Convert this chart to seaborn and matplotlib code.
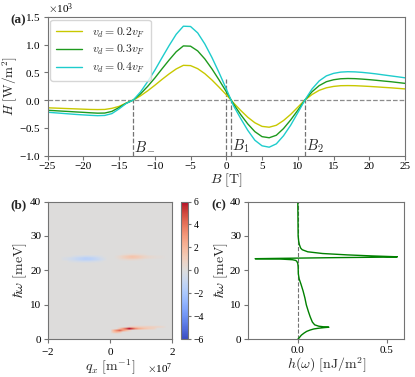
import numpy as np
import pandas as pd
import matplotlib
matplotlib.use("Agg")
import matplotlib.pyplot as plt
from matplotlib.ticker import ScalarFormatter
import seaborn as sns

sns.set_style("ticks")
plt.rcParams["font.family"] = "serif"
plt.rcParams["font.serif"] = ["Liberation Serif", "DejaVu Serif"]
plt.rcParams["mathtext.fontset"] = "cm"
plt.rcParams["axes.edgecolor"] = "0.45"
plt.rcParams["xtick.color"] = "0.45"
plt.rcParams["ytick.color"] = "0.45"
plt.rcParams["xtick.labelcolor"] = "black"
plt.rcParams["ytick.labelcolor"] = "black"

# panel (a): heat current H vs B, values in units of 1e3 W/m^2
B_vals = list(range(-25, 26))
H_02 = [-0.140, -0.145, -0.150, -0.155, -0.160, -0.165, -0.170, -0.172, -0.170, -0.150,
        -0.115, -0.055, 0.000, 0.075, 0.165, 0.265, 0.370, 0.470, 0.560, 0.625,
        0.620, 0.565, 0.475, 0.360, 0.230, 0.095, -0.050, -0.185, -0.310, -0.410,
        -0.475, -0.490, -0.455, -0.370, -0.260, -0.130, 0.000, 0.100, 0.175, 0.220,
        0.245, 0.258, 0.260, 0.258, 0.252, 0.245, 0.237, 0.228, 0.220, 0.210, 0.200]
H_03 = [-0.185, -0.192, -0.200, -0.207, -0.215, -0.222, -0.230, -0.237, -0.235, -0.205,
        -0.135, -0.058, 0.000, 0.110, 0.245, 0.395, 0.560, 0.720, 0.870, 0.975,
        0.970, 0.885, 0.740, 0.560, 0.360, 0.150, -0.070, -0.260, -0.430, -0.570,
        -0.660, -0.680, -0.635, -0.515, -0.360, -0.185, 0.000, 0.150, 0.260, 0.330,
        0.365, 0.383, 0.388, 0.385, 0.377, 0.367, 0.355, 0.342, 0.330, 0.315, 0.300]
H_04 = [-0.220, -0.230, -0.240, -0.250, -0.260, -0.268, -0.276, -0.282, -0.278, -0.245,
        -0.160, -0.062, 0.000, 0.145, 0.330, 0.535, 0.760, 0.980, 1.185, 1.330,
        1.325, 1.210, 1.010, 0.765, 0.490, 0.200, -0.100, -0.330, -0.545, -0.725,
        -0.825, -0.850, -0.790, -0.645, -0.455, -0.230, 0.000, 0.200, 0.345, 0.435,
        0.480, 0.503, 0.510, 0.507, 0.498, 0.485, 0.470, 0.452, 0.435, 0.418, 0.400]
vd_labels = [r"$v_d = 0.2v_F$", r"$v_d = 0.3v_F$", r"$v_d = 0.4v_F$"]
vd_colors = ["#c8c800", "#1e9a1e", "#1ecccc"]
B_marks = [-13.0, 0.7, 11.0]
B_mark_labels = [r"$B_-$", r"$B_1$", r"$B_2$"]

# panel (b): sparse map on a 0.1e7 x 0.5 meV grid (omega, first qx [1e7 m^-1], values)
hm_cells = [
    (2.0, 0.1, [1.5, 2.0, 1.5]),
    (2.5, 0.1, [2.0, 3.5, 4.5, 3.0, 2.0, 1.0]),
    (3.0, 0.3, [1.5, 3.0, 4.5, 6.0, 5.0, 3.5, 2.5, 2.0, 1.5, 1.2, 1.0, 0.8]),
    (3.5, 0.6, [0.8, 1.0, 1.0, 1.0, 1.0, 1.0, 1.0, 1.0, 0.9, 0.8, 0.7, 0.5]),
    (22.5, -1.3, [-0.2, -0.3, -0.4, -0.5, -0.6, -0.6, -0.6, -0.5, -0.4, -0.3, -0.2]),
    (23.0, -1.5, [-0.2, -0.3, -0.5, -0.7, -0.9, -1.1, -1.3, -1.4, -1.4, -1.3, -1.1, -0.9, -0.6, -0.3]),
    (23.5, -1.5, [-0.2, -0.3, -0.5, -0.7, -0.9, -1.1, -1.3, -1.5, -1.4, -1.3, -1.1, -0.8, -0.5, -0.2]),
    (24.0, -1.2, [-0.2, -0.3, -0.4, -0.5, -0.6, -0.6, -0.5, -0.4, -0.3, -0.2]),
    (23.0, 0.3, [0.2, 0.3, 0.4, 0.5, 0.5, 0.4, 0.3, 0.2]),
    (23.5, 0.2, [0.2, 0.5, 0.8, 1.1, 1.3, 1.4, 1.3, 1.1, 0.9, 0.7, 0.5, 0.4, 0.3, 0.2, 0.2, 0.1]),
    (24.0, 0.2, [0.2, 0.5, 0.8, 1.1, 1.4, 1.5, 1.4, 1.2, 0.9, 0.7, 0.5, 0.4, 0.3, 0.2, 0.2, 0.1]),
    (24.5, 0.4, [0.2, 0.3, 0.4, 0.5, 0.5, 0.4, 0.3, 0.2]),
]
cbar_ticks = [-6, -4, -2, 0, 2, 4, 6]

# panel (c): spectral density h(omega) [nJ/m^2]
omega_c = [0, 0.3, 0.7, 1.2, 1.8, 2.3, 2.7, 3.0, 3.2, 3.4, 3.5, 3.6, 3.8, 4.2, 5.0,
           6.5, 8.0, 10.0, 12.0, 14.0, 16.0, 17.5, 19.0, 21.0, 22.0, 22.6, 22.9, 23.1,
           23.3, 23.4, 23.5, 23.7, 23.85, 23.95, 24.2, 24.5, 24.9, 25.4, 26.0, 26.5,
           27.5, 28.5, 30.0, 35.0, 40.0]
h_c = [0, 0.006, 0.012, 0.020, 0.035, 0.050, 0.070, 0.090, 0.115, 0.150, 0.175, 0.150,
       0.118, 0.095, 0.082, 0.070, 0.060, 0.048, 0.040, 0.030, 0.018, 0.008, 0.003,
       0.002, 0.000, -0.005, -0.012, -0.030, -0.100, -0.240, -0.100, 0.200, 0.500,
       0.560, 0.420, 0.280, 0.140, 0.056, 0.025, 0.016, 0.009, 0.005, 0.002, 0.001, 0.0]

fig = plt.figure(figsize=(4.15, 3.77), dpi=100)
ax_a = fig.add_axes([0.1145, 0.5875, 0.8615, 0.368])
ax_b = fig.add_axes([0.1157, 0.1, 0.299, 0.3655])
ax_cb = fig.add_axes([0.436, 0.1, 0.018, 0.3655])
ax_c = fig.add_axes([0.5976, 0.1, 0.377, 0.3655])

# (a)
df_a = pd.DataFrame({
    "B": B_vals * 3,
    "H": np.array(H_02 + H_03 + H_04) * 1e3,
    "vd": [vd_labels[0]] * len(B_vals) + [vd_labels[1]] * len(B_vals) + [vd_labels[2]] * len(B_vals),
})
sns.lineplot(data=df_a, x="B", y="H", hue="vd", palette=vd_colors, linewidth=1.0, ax=ax_a)
ax_a.axhline(0, color="0.55", ls="--", lw=0.9, zorder=0)
ax_a.plot([0, 0], [-1000, 380], color="0.45", ls="--", lw=0.9, zorder=0)
for bm, lab in zip(B_marks, B_mark_labels):
    ax_a.plot([bm, bm], [-1000, 0], color="0.45", ls="--", lw=0.9, zorder=0)
    ax_a.text(bm + 0.1, -840, lab, fontsize=10.5, va="center", ha="left")
ax_a.set_xlim(-25, 25)
ax_a.set_ylim(-1000, 1500)
ax_a.set_xticks(range(-25, 26, 5))
ax_a.set_yticks([-1000, -500, 0, 500, 1000, 1500])
fmt = ScalarFormatter(useMathText=True)
fmt.set_powerlimits((3, 3))
ax_a.yaxis.set_major_formatter(fmt)
ax_a.set_xlabel(r"$B\ [\mathrm{T}]$", fontsize=10, labelpad=0)
ax_a.set_ylabel(r"$H\ [\mathrm{W/m^2}]$", fontsize=9.5, labelpad=0)
ax_a.tick_params(labelsize=8, length=3, pad=2)
ax_a.yaxis.get_offset_text().set_fontsize(8)
ax_a.legend(loc="upper left", fontsize=8.5, frameon=True, handlelength=2.2,
            labelspacing=0.3, borderaxespad=0.25, borderpad=0.5)

# (b)
qx_grid = np.round(np.linspace(-2.0, 2.0, 41), 1)
w_grid = np.round(np.linspace(0, 40, 81), 1)
Z = np.zeros((len(w_grid), len(qx_grid)))
for w, q0, vals in hm_cells:
    i = int(np.argmin(np.abs(w_grid - w)))
    j = int(np.argmin(np.abs(qx_grid - q0)))
    Z[i, j:j + len(vals)] = vals
im = ax_b.imshow(Z, origin="lower", aspect="auto", cmap="coolwarm", vmin=-6, vmax=6,
                 extent=[-2.05e7, 2.05e7, -0.25, 40.25], interpolation="bilinear")
ax_b.set_xlim(-2e7, 2e7)
ax_b.set_ylim(0, 40)
ax_b.set_xticks([-2e7, 0, 2e7])
ax_b.set_yticks([0, 10, 20, 30, 40])
fmt_b = ScalarFormatter(useMathText=True)
fmt_b.set_powerlimits((7, 7))
ax_b.xaxis.set_major_formatter(fmt_b)
ax_b.set_xlabel(r"$q_x\ [\mathrm{m^{-1}}]$", fontsize=10, labelpad=0)
ax_b.set_ylabel(r"$\hbar\omega\ [\mathrm{meV}]$", fontsize=10, labelpad=1)
ax_b.tick_params(labelsize=8, length=3, pad=2)
ax_b.xaxis.get_offset_text().set_fontsize(8)
cb = fig.colorbar(im, cax=ax_cb, ticks=cbar_ticks)
cb.ax.tick_params(labelsize=7, length=2.5, pad=1.5)
cb.outline.set_edgecolor("0.45")

# (c)
sns.lineplot(x=h_c, y=omega_c, orient="y", sort=False, color="green", linewidth=1.0, ax=ax_c)
ax_c.axvline(0, color="0.45", ls="--", lw=0.8, zorder=0)
ax_c.set_ylim(0, 40)
ax_c.set_xticks([0.0, 0.5])
ax_c.set_yticks([0, 10, 20, 30, 40])
ax_c.set_xlabel(r"$h(\omega)\ [\mathrm{nJ/m^2}]$", fontsize=10, labelpad=0)
ax_c.set_ylabel(r"$\hbar\omega\ [\mathrm{meV}]$", fontsize=10, labelpad=0)
ax_c.tick_params(labelsize=8, length=3, pad=2)

fig.text(0.025, 0.947, "(a)", fontsize=9.5, fontweight="bold", va="center")
fig.text(0.025, 0.456, "(b)", fontsize=9.5, fontweight="bold", va="center")
fig.text(0.51, 0.456, "(c)", fontsize=9.5, fontweight="bold", va="center")

fig.savefig("out.png", dpi=100)
